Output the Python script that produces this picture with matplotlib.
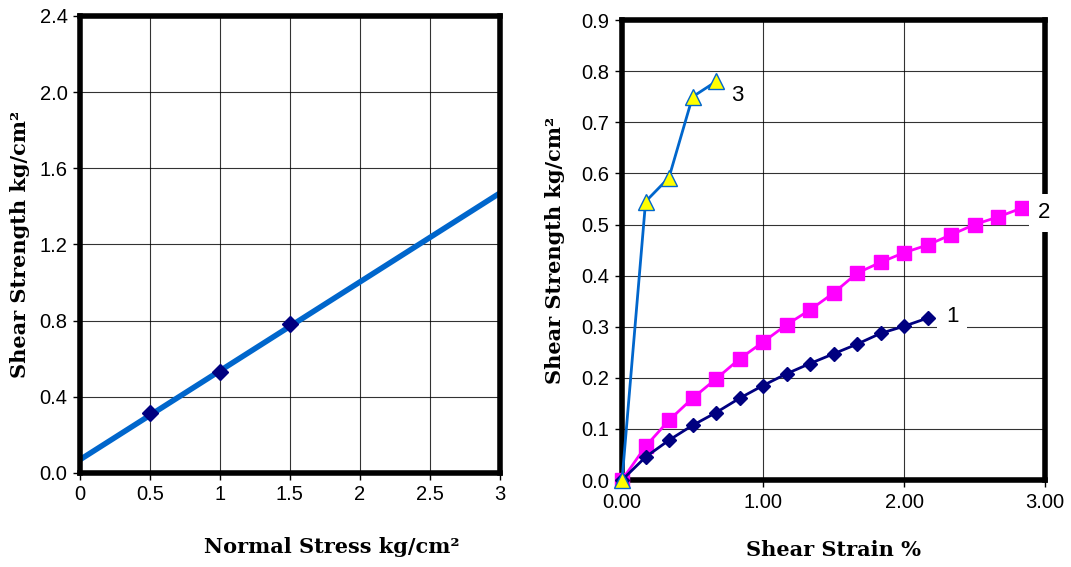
import numpy as np
import matplotlib.pyplot as plt

# left plot: failure envelope
normal_stress = [0.5, 1.0, 1.5]
peak_shear = [0.315, 0.53, 0.78]
env_x = [0.0, 3.0]
env_y = [0.07, 1.47]

# right plot: shear strength vs shear strain
strain1 = [0, 0.167, 0.333, 0.5, 0.667, 0.833, 1.0, 1.167, 1.333, 1.5, 1.667, 1.833, 2.0, 2.167]
shear1 = [0, 0.045, 0.078, 0.107, 0.132, 0.16, 0.185, 0.208, 0.228, 0.247, 0.266, 0.287, 0.301, 0.317]
strain2 = [0, 0.167, 0.333, 0.5, 0.667, 0.833, 1.0, 1.167, 1.333, 1.5, 1.667, 1.833, 2.0, 2.167,
           2.333, 2.5, 2.667, 2.833]
shear2 = [0, 0.066, 0.117, 0.16, 0.198, 0.237, 0.27, 0.304, 0.333, 0.366, 0.405, 0.426, 0.445, 0.46,
          0.48, 0.5, 0.515, 0.532]
strain3 = [0, 0.167, 0.333, 0.5, 0.667]
shear3 = [0, 0.545, 0.592, 0.75, 0.78]

tick_font = dict(family="Liberation Sans", size=14.5)
label_font = dict(family="DejaVu Serif", size=15, weight="bold")

fig = plt.figure(figsize=(10.71, 5.67), dpi=100)
ax1 = fig.add_axes([0.0747, 0.1658, 0.392, 0.806])
ax2 = fig.add_axes([0.5808, 0.1534, 0.395, 0.811])

def style(ax):
    for s in ax.spines.values():
        s.set_linewidth(4)
        s.set_color("black")
    ax.grid(True, color="black", linewidth=0.8, alpha=0.8)
    ax.set_axisbelow(True)
    ax.tick_params(direction="out", length=5, width=1, pad=4)
    ax.tick_params(top=False, right=False)
    for lab in ax.get_xticklabels() + ax.get_yticklabels():
        lab.set_fontfamily(tick_font["family"])
        lab.set_fontsize(tick_font["size"])

# left chart
ax1.plot(env_x, env_y, color="#0066CC", linewidth=4, solid_capstyle="butt")
ax1.plot(normal_stress, peak_shear, linestyle="none", marker="D", markersize=8,
         color="#000080", zorder=3)
ax1.set_xlim(0, 3)
ax1.set_ylim(0, 2.4)
ax1.set_xticks(np.arange(0, 3.01, 0.5))
ax1.set_xticklabels(["0", "0.5", "1", "1.5", "2", "2.5", "3"])
ax1.set_yticks(np.arange(0, 2.41, 0.4))
ax1.set_yticklabels(["%.1f" % v for v in np.arange(0, 2.41, 0.4)])
style(ax1)
ax1.set_xlabel("Normal Stress kg/cm²", fontdict=label_font)
ax1.xaxis.set_label_coords(0.6, -0.14)
ax1.set_ylabel("Shear Strength kg/cm²", fontdict=label_font)
ax1.yaxis.set_label_coords(-0.12, 0.5)

# right chart
ax2.plot(strain1, shear1, color="#000080", linewidth=2, marker="D", markersize=7.5,
         clip_on=False, zorder=4)
ax2.plot(strain2, shear2, color="#FF00FF", linewidth=2, marker="s", markersize=10,
         clip_on=False, zorder=3)
ax2.plot(strain3, shear3, color="#0066CC", linewidth=2, marker="^", markersize=11,
         markerfacecolor="#FFFF00", markeredgecolor="#0066CC", markeredgewidth=1,
         clip_on=False, zorder=5)
ax2.set_xlim(0, 3)
ax2.set_ylim(0, 0.9)
ax2.set_xticks([0, 1, 2, 3])
ax2.set_xticklabels(["0.00", "1.00", "2.00", "3.00"])
ax2.set_yticks(np.arange(0, 0.91, 0.1))
ax2.set_yticklabels(["%.1f" % v for v in np.arange(0, 0.91, 0.1)])
style(ax2)
ax2.set_xlabel("Shear Strain %", fontdict=label_font)
ax2.xaxis.set_label_coords(0.5, -0.13)
ax2.set_ylabel("Shear Strength kg/cm²", fontdict=label_font)
ax2.yaxis.set_label_coords(-0.135, 0.5)

box = dict(facecolor="white", edgecolor="none", pad=6)
ax2.text(2.34, 0.32, "1", fontsize=16, family="Liberation Sans", ha="center", va="center", bbox=box, zorder=6)
ax2.text(2.99, 0.523, "2", fontsize=16, family="Liberation Sans", ha="center", va="center", bbox=box, zorder=6)
ax2.text(0.82, 0.752, "3", fontsize=16, family="Liberation Sans", ha="center", va="center", zorder=6)

fig.savefig("out.png", dpi=100)
